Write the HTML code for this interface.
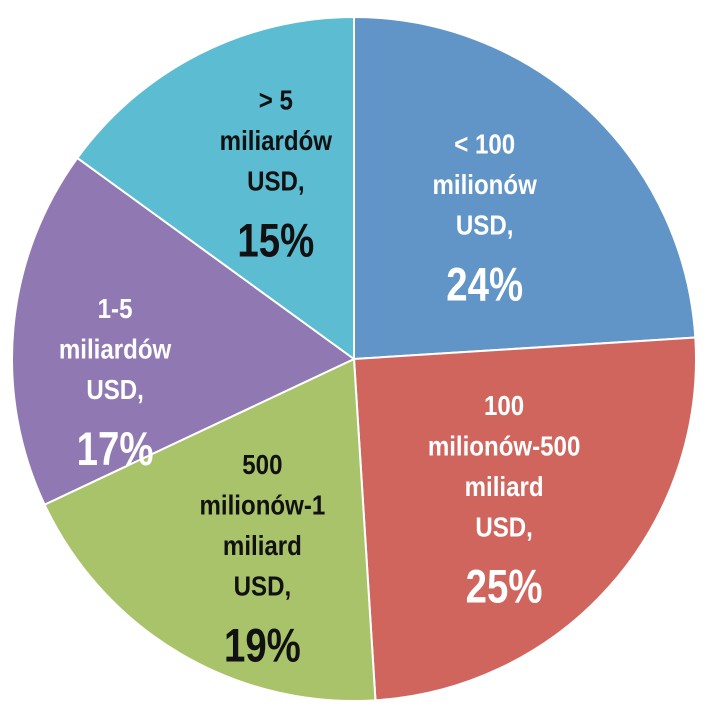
<!DOCTYPE html>
<html><head><meta charset="utf-8"><style>
body{margin:0;background:#fff;}
svg text{font-family:"Liberation Sans",sans-serif;font-weight:bold;text-anchor:middle;}
</style></head><body>
<svg width="718" height="711" viewBox="0 0 718 711" id="chart"></svg>
<script>
const categories=["< 100 milionów USD","100 milionów-500 miliard USD","500 milionów-1 miliard USD","1-5 miliardów USD","> 5 miliardów USD"];
const values=[24,25,19,17,15];
const labelLines=[["< 100","milionów","USD,"],["100","milionów-500","miliard","USD,"],["500","milionów-1","miliard","USD,"],["1-5","miliardów","USD,"],["> 5","miliardów","USD,"]];
const colors=["#6195c8","#d0655e","#a9c36b","#9079b3","#5cbcd2"];
const textColors=["#fff","#fff","#111","#fff","#111"];
const ns="http://www.w3.org/2000/svg";
const svg=document.getElementById('chart');
const cx=354,cy=359,r=342;
const total=values.reduce((a,b)=>a+b,0);
function pt(a,rr){return [cx+rr*Math.sin(a),cy-rr*Math.cos(a)];}
let start=0;
const labelR=[0.58,0.585,0.62,0.70,0.61];
const angAdj=[-2,0,-5,-9,5];
values.forEach((v,i)=>{
  const sweep=v/total*2*Math.PI,end=start+sweep;
  const [x1,y1]=pt(start,r),[x2,y2]=pt(end,r);
  const p=document.createElementNS(ns,'path');
  p.setAttribute('d',`M${cx},${cy}L${x1},${y1}A${r},${r} 0 ${sweep>Math.PI?1:0} 1 ${x2},${y2}Z`);
  p.setAttribute('fill',colors[i]);p.setAttribute('stroke','#fff');p.setAttribute('stroke-width','2');
  
  
  svg.appendChild(p);
  const mid=start+sweep/2+angAdj[i]*Math.PI/180;
  const [lx,ly]=pt(mid,r*labelR[i]);
  const lines=labelLines[i];
  const n=lines.length;
  const lh=40.5;
  const span=(n-1)*lh+49;
  const y0=ly-span/2+9;
  const g=document.createElementNS(ns,'g');
  
  
  g.setAttribute('transform',`translate(${lx},0) scale(0.86,1)`);
  lines.forEach((t,k)=>{
    const tx=document.createElementNS(ns,'text');
    tx.setAttribute('x',0);tx.setAttribute('y',y0+k*lh);
    tx.setAttribute('font-size','28');tx.setAttribute('fill',textColors[i]);
    tx.textContent=t;g.appendChild(tx);
  });
  const pc=document.createElementNS(ns,'text');
  pc.setAttribute('x',0);pc.setAttribute('y',y0+(n-1)*lh+66);
  pc.setAttribute('font-size','47');pc.setAttribute('fill',textColors[i]);
  pc.setAttribute('transform','scale(0.95,1)');
  pc.textContent=v+'%';g.appendChild(pc);
  svg.appendChild(g);
  start=end;
});
</script>
</body></html>
